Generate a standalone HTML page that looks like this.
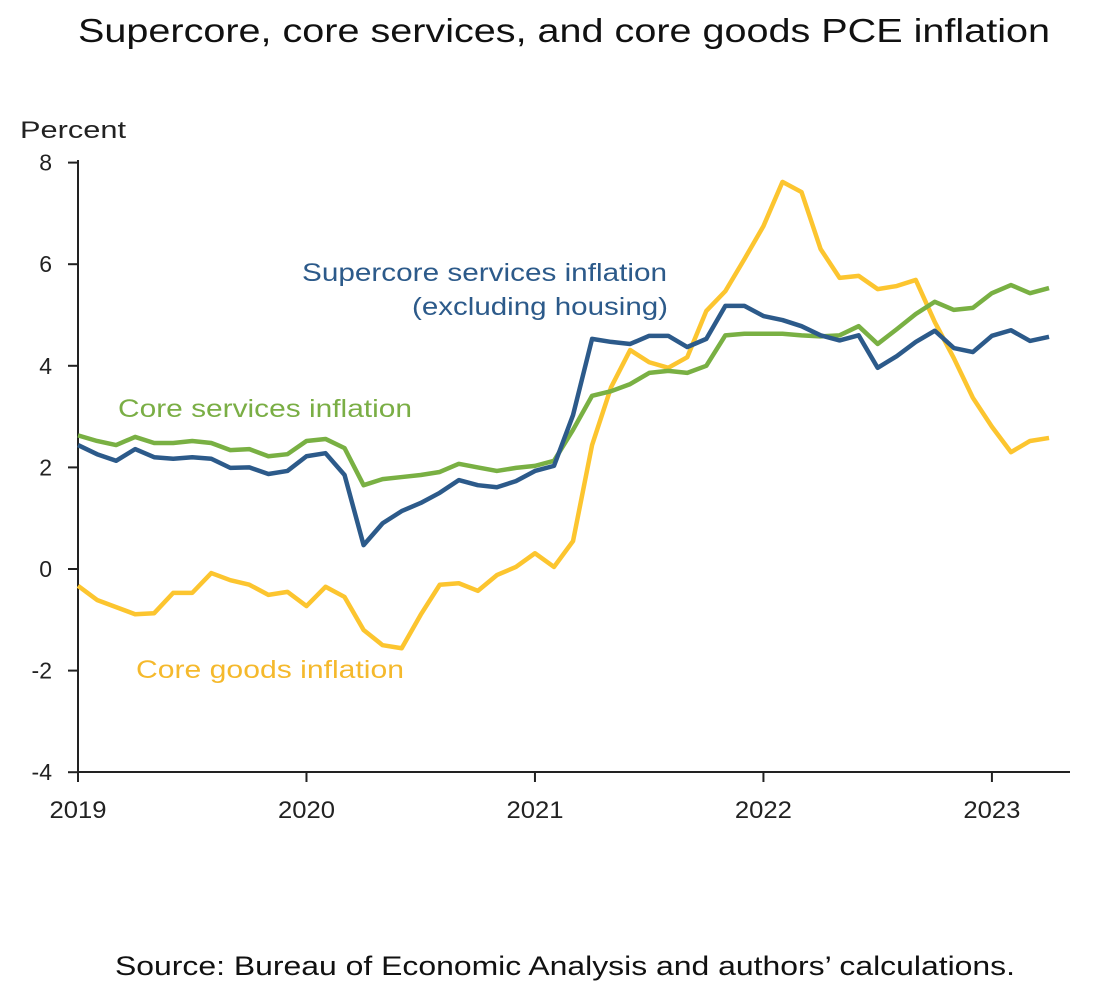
<!DOCTYPE html>
<html><head><meta charset="utf-8"><style>
body{margin:0;background:#fff;width:1118px;height:996px;overflow:hidden;font-family:"Liberation Sans",sans-serif}
</style></head><body>
<svg width="1118" height="996" style="font-family:'Liberation Sans',sans-serif">
<text x="78" y="42" font-size="33" textLength="972" lengthAdjust="spacingAndGlyphs" fill="#111">Supercore, core services, and core goods PCE inflation</text>
<text x="20" y="138" font-size="24" textLength="106" lengthAdjust="spacingAndGlyphs" fill="#222">Percent</text>
<g id="axes"></g>
<g id="lines"></g>
<text x="302" y="281" font-size="25" textLength="365" lengthAdjust="spacingAndGlyphs" fill="#2c5a8a">Supercore services inflation</text>
<text x="412" y="315" font-size="25" textLength="256" lengthAdjust="spacingAndGlyphs" fill="#2c5a8a">(excluding housing)</text>
<text x="118" y="417" font-size="25" textLength="294" lengthAdjust="spacingAndGlyphs" fill="#7aae45">Core services inflation</text>
<text x="136" y="678" font-size="25" textLength="268" lengthAdjust="spacingAndGlyphs" fill="#f5b92c">Core goods inflation</text>
<text x="115" y="975" font-size="27" textLength="900" lengthAdjust="spacingAndGlyphs" fill="#111">Source: Bureau of Economic Analysis and authors’ calculations.</text>
</svg>
<script>
const yTicks=[-4,-2,0,2,4,6,8];
const xYears=[2019,2020,2021,2022,2023];
const coreServices=[2.63,2.52,2.44,2.6,2.48,2.48,2.52,2.48,2.34,2.36,2.22,2.26,2.52,2.56,2.38,1.65,1.77,1.81,1.85,1.91,2.07,2.0,1.93,1.99,2.03,2.13,2.74,3.41,3.5,3.64,3.86,3.9,3.86,4.0,4.6,4.63,4.63,4.63,4.6,4.58,4.6,4.78,4.43,4.72,5.02,5.26,5.1,5.14,5.43,5.59,5.43,5.53];
const supercore=[2.44,2.26,2.13,2.36,2.2,2.17,2.2,2.17,1.99,2.0,1.87,1.93,2.22,2.28,1.85,0.47,0.9,1.14,1.3,1.5,1.75,1.65,1.61,1.73,1.93,2.03,3.03,4.53,4.47,4.43,4.59,4.59,4.37,4.53,5.18,5.18,4.98,4.9,4.78,4.6,4.5,4.6,3.96,4.19,4.47,4.69,4.35,4.27,4.59,4.7,4.49,4.57];
const coreGoods=[-0.33,-0.61,-0.75,-0.89,-0.87,-0.47,-0.47,-0.08,-0.22,-0.31,-0.51,-0.45,-0.73,-0.35,-0.55,-1.2,-1.5,-1.56,-0.9,-0.31,-0.28,-0.43,-0.12,0.04,0.31,0.04,0.55,2.44,3.58,4.31,4.07,3.96,4.17,5.08,5.47,6.1,6.75,7.62,7.42,6.3,5.73,5.77,5.51,5.57,5.69,4.86,4.15,3.37,2.8,2.3,2.52,2.58];
const NS="http://www.w3.org/2000/svg";
const x=i=>78+i*19.04;
const y=v=>569-v*50.8;
function mk(t,a,p){const e=document.createElementNS(NS,t);for(const k in a)e.setAttribute(k,a[k]);p.appendChild(e);return e;}
const ax=document.getElementById('axes');
let l=mk('line',{x1:78,y1:160,x2:78,y2:772,stroke:'#222','stroke-width':2},ax);


l=mk('line',{x1:78,y1:772,x2:1070,y2:772,stroke:'#222','stroke-width':2},ax);


yTicks.forEach(v=>{
 mk('line',{x1:68,y1:y(v),x2:78,y2:y(v),stroke:'#222','stroke-width':2},ax);
 const t=mk('text',{x:52,y:y(v)+8,'text-anchor':'end','font-size':23,fill:'#222'},ax);
 t.textContent=v;
 
 
});
xYears.forEach((yr,k)=>{
 const px=x(k*12);
 mk('line',{x1:px,y1:772,x2:px,y2:782,stroke:'#222','stroke-width':2},ax);
 const t=mk('text',{x:px,y:818,'text-anchor':'middle','font-size':24,textLength:57,lengthAdjust:'spacingAndGlyphs',fill:'#222'},ax);
 t.textContent=yr;
 
 
});
const lg=document.getElementById('lines');
[[coreGoods,'#fcc52f','core-goods-line'],[coreServices,'#79b043','core-services-line'],[supercore,'#2c5a8a','supercore-line']].forEach(([d,c,n])=>{
 const p=mk('polyline',{points:d.map((v,i)=>x(i)+','+y(v)).join(' '),fill:'none',stroke:c,'stroke-width':4.5,'stroke-linejoin':'round'},lg);
 
 
});
</script>
</body></html>
